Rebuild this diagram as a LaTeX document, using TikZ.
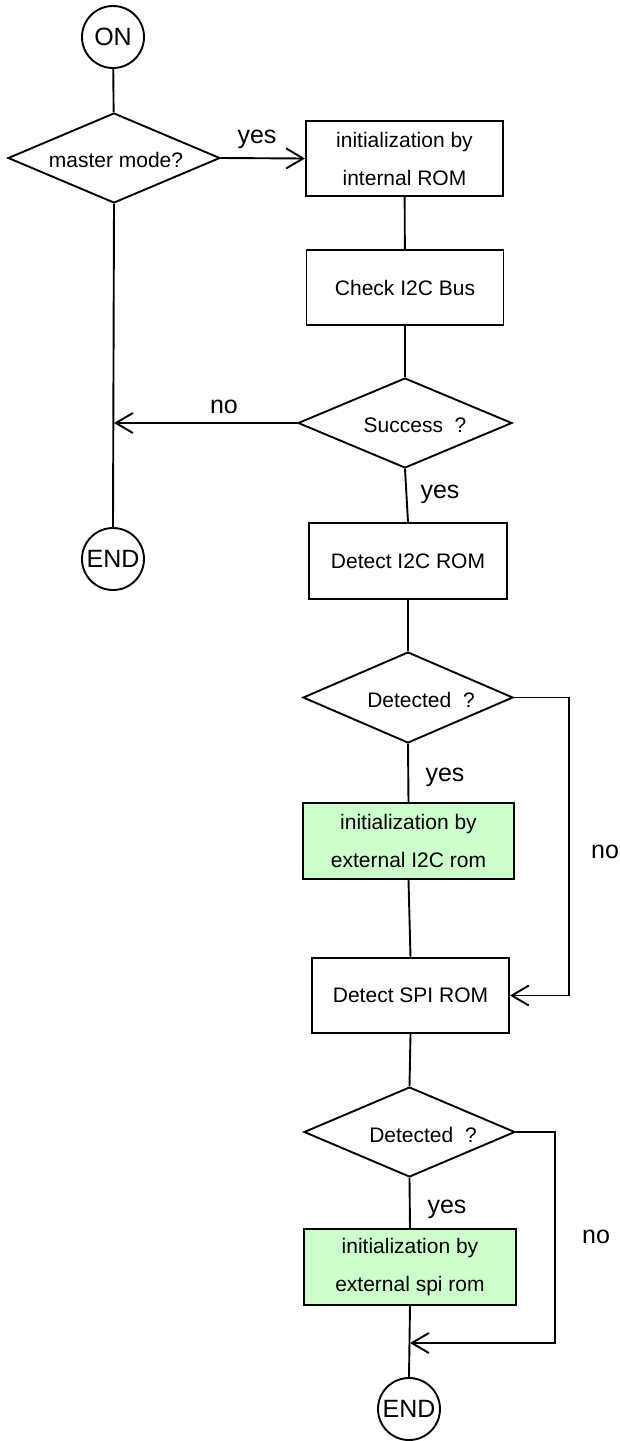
\documentclass[tikz,border=0pt]{standalone}
\usepackage{fontspec}
\setmainfont{Liberation Sans}
\usetikzlibrary{shapes.geometric,arrows.meta}
\definecolor{initgreen}{RGB}{204,255,204}
\begin{document}
\begin{tikzpicture}[x=1pt,y=-1pt,
  flow/.style={line width=1.9pt},
  arr/.style={flow,-{Straight Barb[length=17pt,width=20pt]}},
  procbox/.style={draw,line width=1.9pt,rectangle,minimum width=197pt,
    minimum height=75pt,inner sep=0pt,align=center,
    font=\fontsize{21}{38}\selectfont},
  greenbox/.style={procbox,fill=initgreen,minimum width=211pt,minimum height=76pt},
  decision/.style={draw,line width=1.9pt,diamond,minimum width=212pt,
    minimum height=90pt,inner sep=0pt},
  dtext/.style={inner sep=0pt,font=\fontsize{21}{25}\selectfont},
  terminal/.style={draw,line width=1.9pt,circle,minimum size=62pt,
    inner sep=0pt,font=\fontsize{25}{30}\selectfont},
  branch/.style={inner sep=0pt,anchor=base,font=\fontsize{25}{30}\selectfont}
]
\useasboundingbox (0,0) rectangle (620,1441);

% left column
\node[terminal] (on) at (113,37) {ON};
\node[decision] (master) at (114,158) {};
\node[dtext] (mastert) at (116,160) {master mode?};
\node[terminal] (end1) at (113,559) {END};

% main column
\node[procbox] (introm) at (404.5,158.5) {initialization by\\internal ROM};
\node[procbox] (bus) at (405,287.5) {Check I2C Bus};
\node[decision,minimum width=214pt] (succ) at (405,423) {};
\node[dtext] (succt) at (415,425) {Success\ \ ?};
\node[procbox,minimum width=198pt,minimum height=76pt] (deti2c) at (408,561) {Detect I2C ROM};
\node[decision,minimum width=210pt,minimum height=91pt] (det1) at (408,697.5) {};
\node[dtext] (det1t) at (421,700) {Detected\ \ ?};
\node[greenbox] (exti2c) at (408.5,841) {initialization by\\external I2C rom};
\node[procbox] (detspi) at (410.5,995.5) {Detect SPI ROM};
\node[decision,minimum width=211pt] (det2) at (409.5,1132) {};
\node[dtext] (det2t) at (423,1135) {Detected\ \ ?};
\node[greenbox,minimum width=212pt] (extspi) at (410,1267) {initialization by\\external spi rom};
\node[terminal] (end2) at (409,1409) {END};
\coordinate (join) at (410,1343);

% connectors
\draw[flow] (on) -- (master);
\draw[arr] (master.east) -- (introm.west);
\draw[flow] (master.south) -- (end1.north);
\draw[flow] (introm) -- (bus);
\draw[flow] (bus) -- (succ.north);
\draw[arr] (succ.west) -- (succ.west -| master.south);
\draw[flow] (succ.south) -- (deti2c.north);
\draw[flow] (deti2c.south) -- (det1.north);
\draw[flow] (det1.south) -- (exti2c.north);
\draw[arr] (det1.east) -- ++(55,0) |- (detspi.east);
\draw[flow] (exti2c.south) -- (detspi.north);
\draw[flow] (detspi.south) -- (det2.north);
\draw[flow] (det2.south) -- (extspi.north);
\draw[flow] (extspi.south) -- (end2.north);
\draw[arr] (det2.east) -- ++(39,0) |- (join);

% branch labels
\node[branch] (yes1) at (257,143) {yes};
\node[branch] (no1) at (224,413) {no};
\node[branch] (yes2) at (440,498) {yes};
\node[branch] (yes3) at (445,781) {yes};
\node[branch] (no2) at (605,858) {no};
\node[branch] (yes4) at (447,1213) {yes};
\node[branch] (no3) at (596,1243) {no};
\end{tikzpicture}
\end{document}
